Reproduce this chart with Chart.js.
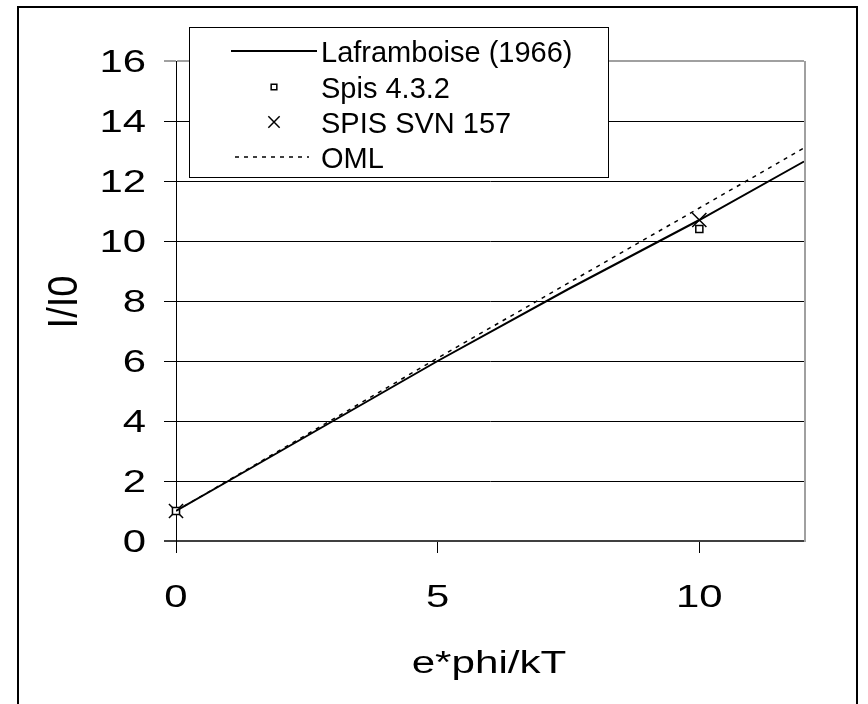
<!DOCTYPE html>
<html>
<head>
<meta charset="utf-8">
<title>I/I0 vs e*phi/kT</title>
<script src="https://cdn.jsdelivr.net/npm/chart.js@4/dist/chart.umd.min.js"></script>
<style>
  html, body { margin: 0; padding: 0; background: #fff; }
  #wrap { position: relative; width: 868px; height: 704px; }
</style>
</head>
<body>
<div id="wrap"><canvas id="chart" width="868" height="704"></canvas></div>
<script>
// ---------- données ----------
// Laframboise (1966), courant collecté normalisé
const lafX = [0, 1, 2, 3, 5, 7.5, 10, 12, 12.15];
const lafY = [1, 2, 3, 4, 6, 8.4, 10.7, 12.65, 12.8];
// OML
const omlX = [0, 5, 10, 12, 12.15];
const omlY = [1, 6.1, 11.1, 13.1, 13.25];
// simulations
const spis432X = [0, 10];
const spis432Y = [1, 10.4];
const svnX = [0, 10];
const svnY = [1, 10.7];
// axes
const xTicks = [0, 5, 10];
const yTicks = [0, 2, 4, 6, 8, 10, 12, 14, 16];

const FONT = '"Liberation Sans", Arial, sans-serif';
// police des axes un peu élargie (rendu type Excel)
const TICK_SIZE = 31, TICK_SX = 1.35;
const TITLE_SIZE = 31, TITLE_SX = 1.36;

function pts(xs, ys){ return xs.map((x, i) => ({ x: x, y: ys[i] })); }

// texte étiré horizontalement; (x, y) = point d'ancrage en pixels, centré verticalement sur y
function wideText(ctx, text, x, y, size, sx, align, rot){
  ctx.save();
  ctx.translate(x, y);
  ctx.scale(sx, 1);
  if(rot) ctx.rotate(rot);
  ctx.font = size + 'px ' + FONT;
  ctx.fillStyle = '#000';
  ctx.textAlign = align;
  ctx.textBaseline = 'alphabetic';
  ctx.fillText(text, 0, size * 0.358);
  ctx.restore();
}

// ---------- étiquettes des axes ----------
const axisTextPlugin = {
  id: 'axisText',
  afterDraw(chart){
    const ctx = chart.ctx;
    const xs = chart.scales.x, ys = chart.scales.y;
    xs.ticks.forEach(t => {
      wideText(ctx, String(t.value), xs.getPixelForValue(t.value), 596, TICK_SIZE, TICK_SX, 'center');
    });
    ys.ticks.forEach(t => {
      wideText(ctx, String(t.value), 146, ys.getPixelForValue(t.value), TICK_SIZE, TICK_SX, 'right');
    });
    // titres
    wideText(ctx, xs.options.title.text, 489, 662, TITLE_SIZE, TITLE_SX, 'center');
    wideText(ctx, ys.options.title.text, 62, 302, 38, 1.1, 'center', -Math.PI / 2);
  }
};

// ---------- cadre extérieur + bord droit du tracé ----------
const framePlugin = {
  id: 'frame',
  afterDraw(chart){
    const ctx = chart.ctx;
    const a = chart.chartArea;
    ctx.save();
    ctx.strokeStyle = '#a0a0a0';
    ctx.lineWidth = 2;
    ctx.beginPath();
    ctx.moveTo(a.right + 1, a.top);
    ctx.lineTo(a.right + 1, a.bottom + 1);
    ctx.stroke();
    ctx.strokeStyle = '#000';
    ctx.lineWidth = 2;
    ctx.strokeRect(18, 7, 839, 720);
    ctx.restore();
  }
};

// ---------- légende dans le cadre ----------
const legendBox = { left: 189, top: 27, right: 608, bottom: 177 };
const legendRows = [51, 87, 122, 157];

const legendPlugin = {
  id: 'boxLegend',
  afterDraw(chart){
    const ctx = chart.ctx;
    const b = legendBox;
    ctx.save();
    ctx.fillStyle = '#fff';
    ctx.fillRect(b.left, b.top, b.right - b.left, b.bottom - b.top);
    ctx.strokeStyle = '#000';
    ctx.lineWidth = 1;
    ctx.strokeRect(b.left + 0.5, b.top + 0.5, b.right - b.left, b.bottom - b.top);

    chart.data.datasets.forEach((ds, i) => {
      const y = legendRows[i];
      ctx.save();
      if(ds.showLine){
        ctx.strokeStyle = ds.borderColor;
        ctx.lineWidth = ds.borderWidth;
        ctx.setLineDash(ds.borderDash || []);
        ctx.beginPath();
        ctx.moveTo(ds.borderDash ? 235 : 231, y);
        ctx.lineTo(ds.borderDash ? 309 : 317, y);
        ctx.stroke();
      } else {
        ctx.strokeStyle = ds.pointBorderColor;
        ctx.fillStyle = ds.pointBackgroundColor;
        ctx.lineWidth = ds.pointBorderWidth;
        Chart.helpers.drawPoint(ctx, {
          pointStyle: ds.pointStyle, radius: ds.pointRadius * 0.8,
          rotation: 0, borderWidth: ds.pointBorderWidth
        }, 274, y);
      }
      ctx.restore();
      ctx.fillStyle = '#000';
      ctx.font = '29px ' + FONT;
      ctx.textBaseline = 'alphabetic';
      ctx.textAlign = 'left';
      ctx.fillText(ds.label, 321, y + 10.5);
    });
    ctx.restore();
  }
};

const ctx = document.getElementById('chart').getContext('2d');
const chart = new Chart(ctx, {
  type: 'scatter',
  data: {
    datasets: [
      {
        label: 'Laframboise (1966)', data: pts(lafX, lafY), showLine: true,
        borderColor: '#000', borderWidth: 2, pointRadius: 0, tension: 0,
        clip: { left: 0, top: 0, right: 10, bottom: 0 }
      },
      {
        label: 'Spis 4.3.2', data: pts(spis432X, spis432Y), showLine: false,
        pointStyle: 'rect', pointRadius: 5, pointBorderWidth: 1.5,
        pointBorderColor: '#000', pointBackgroundColor: '#fff', clip: false
      },
      {
        label: 'SPIS SVN 157', data: pts(svnX, svnY), showLine: false,
        pointStyle: 'crossRot', pointRadius: 10, pointBorderWidth: 1.5,
        pointBorderColor: '#000', pointBackgroundColor: '#000', clip: false
      },
      {
        label: 'OML', data: pts(omlX, omlY), showLine: true,
        borderColor: '#000', borderWidth: 1.5, borderDash: [4, 5], pointRadius: 0, tension: 0,
        clip: { left: 0, top: 0, right: 10, bottom: 0 }
      }
    ]
  },
  options: {
    responsive: false,
    animation: false,
    layout: { padding: { top: 61, right: 64, left: 0, bottom: 0 } },
    plugins: { legend: { display: false }, tooltip: { enabled: false } },
    scales: {
      x: {
        type: 'linear', min: 0, max: 12,
        afterBuildTicks: s => { s.ticks = xTicks.map(v => ({ value: v })); },
        afterFit: s => { s.height = 163; },
        grid: { drawOnChartArea: false, drawTicks: true, tickLength: 12, color: '#000', lineWidth: 1 },
        border: { display: false },
        ticks: { display: false },
        title: { display: false, text: 'e*phi/kT' }
      },
      y: {
        type: 'linear', min: 0, max: 16,
        afterBuildTicks: s => { s.ticks = yTicks.map(v => ({ value: v })); },
        afterFit: s => { s.width = 176; },
        grid: {
          tickLength: 12, lineWidth: c => (c.tick && (c.tick.value === 16 || c.tick.value === 0)) ? 2 : 1,
          color: c => c.tick && c.tick.value === 16 ? '#a0a0a0' : (c.tick && c.tick.value === 0 ? '#404040' : '#000')
        },
        border: { display: true, color: '#000', width: 1 },
        ticks: { display: false },
        title: { display: false, text: 'I/I0' }
      }
    }
  },
  plugins: [legendPlugin, framePlugin, axisTextPlugin]
});
</script>
</body>
</html>
